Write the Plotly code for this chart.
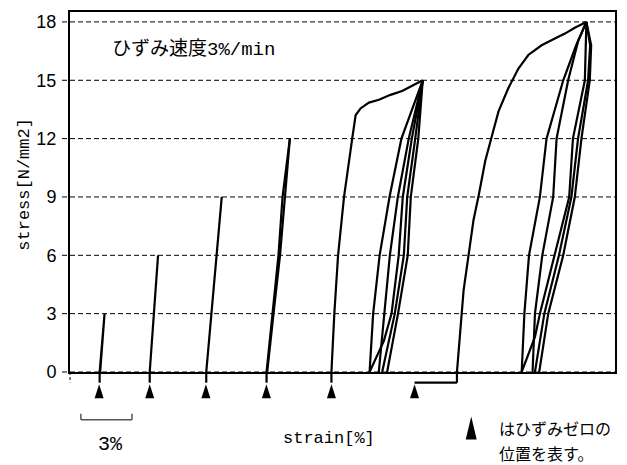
import plotly.graph_objects as go

# ---- data -------------------------------------------------------------
# zero-strain position of every specimen on the strain axis [%]
zero_strain = [1.71, 4.68, 7.98, 11.53, 15.35, 20.23]

# stress levels with grid lines / tick labels [N/mm2]
y_ticks = [0, 3, 6, 9, 12, 15, 18]
y_tick_text = ["0", "3", "6", "9", "12", "15", "18"]

# each specimen: list of paths, strain counted from its own zero [%]
sp1_strain = [[0.03, 0.32, 0.06]]
sp1_stress = [[0.0, 3.0, 0.0]]

sp2_strain = [[0.00, 0.25, 0.49]]
sp2_stress = [[0.0, 3.0, 6.0]]

sp3_strain = [[0.02, 0.33, 0.60, 0.93]]
sp3_stress = [[0.0, 3.0, 6.0, 9.0]]

sp4_strain = [
    [0.01, 0.36, 0.71, 0.95, 1.15, 1.38],
    [1.38, 1.24, 1.09, 0.80, 0.42, 0.05],
]
sp4_stress = [
    [0.0, 3.0, 6.0, 9.0, 10.5, 12.0],
    [12.0, 10.5, 9.0, 6.0, 3.0, 0.0],
]

sp5_strain = [
    [0.00, 0.17, 0.39, 0.74, 1.22, 1.42, 1.71, 2.20, 2.79, 3.47, 4.15, 4.73, 5.36],
    [2.24, 2.45, 2.83, 3.41, 4.11, 5.36],
    [2.24, 3.08, 3.53, 3.95, 4.19, 4.72, 5.36],
    [2.78, 3.12, 3.43, 3.90, 4.54, 5.36],
    [2.98, 3.72, 4.25, 4.45, 4.92, 5.36],
    [3.27, 3.91, 4.48, 4.66, 5.10, 5.36],
]
sp5_stress = [
    [0.0, 3.0, 6.0, 9.0, 12.0, 13.2, 13.55, 13.85, 14.0, 14.25, 14.45, 14.7, 15.0],
    [0.0, 3.0, 6.0, 9.0, 12.0, 15.0],
    [0.0, 1.6, 3.0, 6.0, 9.0, 12.0, 15.0],
    [0.0, 3.0, 6.0, 9.0, 12.0, 15.0],
    [0.0, 3.0, 6.0, 9.0, 12.0, 15.0],
    [0.0, 3.0, 6.0, 9.0, 12.0, 15.0],
]

sp6_strain = [
    [2.49, 2.63, 2.74, 2.88, 3.17, 3.46, 3.76, 4.15, 4.53, 4.93, 5.51, 6.10,
     6.68, 7.46, 8.24, 8.83, 9.41, 10.09],
    [6.29, 6.45, 6.72, 7.36, 7.75, 8.73, 9.49, 10.09],
    [6.29, 7.07, 7.36, 8.24, 9.08, 9.30, 10.00, 10.09],
    [6.93, 7.07, 7.50, 8.14, 8.34, 9.02, 9.60, 10.09],
    [7.07, 7.62, 8.48, 9.21, 9.60, 10.19, 10.31, 10.09],
    [7.32, 7.85, 8.73, 9.41, 9.80, 10.29, 10.37, 10.09],
]
sp6_stress = [
    [0.0, 1.62, 3.0, 4.2, 6.0, 7.8, 9.05, 10.85, 12.1, 13.4, 14.6, 15.6,
     16.3, 16.8, 17.15, 17.4, 17.7, 18.0],
    [0.0, 3.0, 6.0, 9.0, 12.0, 15.0, 16.8, 18.0],
    [0.0, 1.8, 3.0, 6.0, 9.0, 12.0, 15.0, 18.0],
    [0.0, 3.0, 6.0, 9.0, 12.0, 15.0, 17.0, 18.0],
    [0.0, 3.0, 6.0, 9.0, 12.0, 15.0, 16.8, 18.0],
    [0.0, 3.0, 6.0, 9.0, 12.0, 15.0, 16.8, 18.0],
]

specimen_strain = [sp1_strain, sp2_strain, sp3_strain, sp4_strain, sp5_strain, sp6_strain]
specimen_stress = [sp1_stress, sp2_stress, sp3_stress, sp4_stress, sp5_stress, sp6_stress]

# ---- layout constants ---------------------------------------------------
X_RANGE = [0, 32]
Y_RANGE = [0, 18.51]
LEAD = -0.55        # level where the lead lines turn toward the zero marks
MARK_BASE = -1.35   # base of the zero-strain triangles
SCALE_BAR = 3.0     # length of the strain scale bar [%]
SCALE_X0 = 0.64

PLOT_TOP, PLOT_BOTTOM = 10, 372      # pixel rows of the plot frame


def py(row):
    """Pixel row -> paper fraction of the plot height."""
    return (PLOT_BOTTOM - row) / (PLOT_BOTTOM - PLOT_TOP)


def paper_y(v):
    """Stress value -> paper fraction of the plot height."""
    return (v - Y_RANGE[0]) / (Y_RANGE[1] - Y_RANGE[0])


fig = go.Figure()
shapes = []

for z, strains, stresses in zip(zero_strain, specimen_strain, specimen_stress):
    xs, ys = [], []
    for i, (sx, sy) in enumerate(zip(strains, stresses)):
        if i > 0:
            xs.append(None)
            ys.append(None)
        xs += [z + v for v in sx]
        ys += list(sy)
    fig.add_trace(go.Scatter(
        x=xs, y=ys, mode="lines",
        line=dict(color="black", width=2.2),
        hoverinfo="skip", showlegend=False,
    ))
    # lead line from the start of the curve down to its zero-strain mark
    x_start = z + strains[0][0]
    lead_style = dict(color="black", width=2.2)
    shapes.append(dict(type="line", xref="x", yref="paper",
                       x0=x_start, x1=x_start,
                       y0=paper_y(0), y1=paper_y(LEAD), line=lead_style))
    if x_start - z > 0.1:
        shapes.append(dict(type="line", xref="x", yref="paper",
                           x0=z, x1=x_start,
                           y0=paper_y(LEAD), y1=paper_y(LEAD), line=lead_style))

# dashed grid lines, extended slightly left of the axis as ticks
for v in y_ticks:
    shapes.append(dict(type="line", xref="paper", yref="paper",
                       x0=-8 / 547, x1=1, y0=paper_y(v), y1=paper_y(v),
                       line=dict(color="black", width=1, dash="5px,3px")))
# dashed continuation of the stress axis below zero
shapes.append(dict(type="line", xref="paper", yref="paper",
                   x0=0, x1=0, y0=0, y1=paper_y(-0.53),
                   line=dict(color="black", width=1, dash="3px,2px")))
# zero-strain triangles
for z in zero_strain:
    shapes.append(dict(type="path", xref="x", yref="paper",
                       xsizemode="pixel", ysizemode="pixel",
                       xanchor=z, yanchor=paper_y(MARK_BASE),
                       path="M-4.5,0L4.5,0L0,14Z",
                       fillcolor="black", line=dict(width=0)))
# strain scale bar
bar_y, tick_y = py(420), py(414)
shapes.append(dict(type="line", xref="x", yref="paper",
                   x0=SCALE_X0, x1=SCALE_X0 + SCALE_BAR, y0=bar_y, y1=bar_y,
                   line=dict(color="#555555", width=1.5)))
for xv in (SCALE_X0, SCALE_X0 + SCALE_BAR):
    shapes.append(dict(type="line", xref="x", yref="paper",
                       x0=xv, x1=xv, y0=bar_y, y1=tick_y,
                       line=dict(color="#555555", width=1.5)))
# legend triangle
lx0, lx1, lxc = (467.2 - 70) / 547, (478.2 - 70) / 547, (472.7 - 70) / 547
shapes.append(dict(type="path", xref="paper", yref="paper",
                   path=f"M{lx0},{py(440)}L{lx1},{py(440)}L{lxc},{py(416.7)}Z",
                   fillcolor="black", line=dict(width=0)))

mono_jp = "Liberation Mono, Noto Sans CJK JP"
annotations = [
    dict(text="ひずみ速度3%/min", xref="paper", yref="paper",
         x=(110 - 70) / 547, y=py(47.7), xanchor="left", yanchor="middle",
         showarrow=False, font=dict(family=mono_jp, size=19, color="black")),
    dict(text="stress[N/mm2]", xref="paper", yref="paper",
         x=(23.5 - 70) / 547, y=py(183), xanchor="center", yanchor="middle",
         textangle=-90, showarrow=False,
         font=dict(family="Liberation Mono", size=17, color="black")),
    dict(text="strain[%]", xref="paper", yref="paper",
         x=(330 - 70) / 547, y=py(439.3), xanchor="center", yanchor="middle",
         showarrow=False, font=dict(family="Liberation Mono", size=17, color="black")),
    dict(text="3%", xref="paper", yref="paper",
         x=(110.7 - 70) / 547, y=py(445), xanchor="center", yanchor="middle",
         showarrow=False, font=dict(family="Liberation Mono", size=20, color="black")),
    dict(text="はひずみゼロの", xref="paper", yref="paper",
         x=(499 - 70) / 547, y=py(428.5), xanchor="left", yanchor="middle",
         showarrow=False, font=dict(family="Noto Sans CJK JP", size=16, color="black")),
    dict(text="位置を表す。", xref="paper", yref="paper",
         x=(499 - 70) / 547, y=py(453.5), xanchor="left", yanchor="middle",
         showarrow=False, font=dict(family="Noto Sans CJK JP", size=16, color="black")),
]

fig.update_layout(
    width=627, height=465,
    margin=dict(l=70, r=10, t=PLOT_TOP, b=465 - PLOT_BOTTOM),
    paper_bgcolor="white", plot_bgcolor="white",
    shapes=shapes, annotations=annotations,
    xaxis=dict(range=X_RANGE, showticklabels=False, ticks="",
               showgrid=False, zeroline=False,
               showline=True, mirror=True, linecolor="black", linewidth=2,
               fixedrange=True),
    yaxis=dict(range=Y_RANGE, tickvals=y_ticks, ticktext=y_tick_text,
               ticks="outside", ticklen=8, tickcolor="rgba(0,0,0,0)",
               showgrid=False, zeroline=False,
               showline=True, mirror=True, linecolor="black", linewidth=2,
               tickfont=dict(family="Liberation Sans", size=18, color="black"),
               fixedrange=True),
)

fig.write_html("out.html")
